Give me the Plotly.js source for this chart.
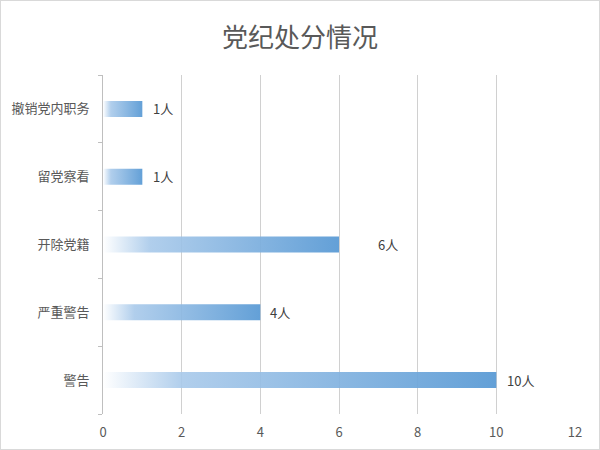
<!DOCTYPE html>
<html>
<head>
<meta charset="utf-8">
<script src="https://cdn.plot.ly/plotly-3.0.1.min.js"></script>
<style>
  html, body { margin: 0; padding: 0; background: #fff; }
  #chart { width: 598px; height: 448px; border: 1px solid #d9d9d9; }
</style>
</head>
<body>
<div id="chart"></div>
<script>
// ---- data ----
const categories = ['撤销党内职务', '留党察看', '开除党籍', '严重警告', '警告'];
const values = [1, 1, 6, 4, 10];
const unit = '人';
const xTicks = [0, 2, 4, 6, 8, 10, 12];

// ---- style ----
const labelShift = [9, 9, 37, 8, 9];
const halfBar = 0.118;
const FONT = '"Noto Sans CJK SC", "Noto Sans", sans-serif';
const grad = [[0, 'rgba(255,255,255,0.9)'], [0.2, 'rgba(168,201,234,0.9)'], [1, 'rgba(91,155,213,0.95)']];

const traces = categories.map((c, i) => ({
  type: 'scatter',
  mode: 'lines',
  x: [0, values[i], values[i], 0, 0],
  y: [i - halfBar, i - halfBar, i + halfBar, i + halfBar, i - halfBar],
  fill: 'toself',
  line: { width: 0, color: 'rgba(0,0,0,0)' },
  fillgradient: { type: 'horizontal', start: 0, stop: values[i], colorscale: grad },
  hoverinfo: 'skip',
  showlegend: false
}));

const annotations = categories.map((c, i) => ({
  x: values[i], y: i, xref: 'x', yref: 'y',
  text: values[i] + unit, showarrow: false,
  xanchor: 'left', yanchor: 'middle', xshift: labelShift[i],
  font: { family: FONT, size: 13, color: '#404040' }
}));

const boundaries = categories.map((c, i) => i - 0.5).concat([categories.length - 0.5]);

const layout = {
  width: 598, height: 448,
  margin: { l: 102, r: 24, t: 74, b: 35 },
  paper_bgcolor: '#ffffff', plot_bgcolor: '#ffffff',
  font: { family: FONT, color: '#595959' },
  title: {
    text: '党纪处分情况',
    font: { family: FONT, size: 26, color: '#595959' },
    x: 0.5, xref: 'container', xanchor: 'center',
    y: 1 - 37 / 448, yref: 'container', yanchor: 'middle'
  },
  xaxis: {
    range: [0, 12], tickvals: xTicks, ticktext: xTicks.map(String),
    showgrid: true, gridcolor: '#d0d0d0', gridwidth: 1,
    zeroline: false, showline: false, ticks: '', ticklabelstandoff: 9,
    tickfont: { family: FONT, size: 13, color: '#595959' },
    fixedrange: true
  },
  yaxis: {
    range: [categories.length - 0.5, -0.5],
    tickvals: categories.map((c, i) => i), ticktext: categories,
    showgrid: false, zeroline: false,
    showline: true, linecolor: '#bfbfbf', linewidth: 1,
    ticks: '', ticklabelstandoff: 10,
    minor: { tickvals: boundaries, ticks: 'outside', ticklen: 4, tickcolor: '#bfbfbf', showgrid: false },
    tickfont: { family: FONT, size: 13, color: '#595959' },
    fixedrange: true
  },
  annotations: annotations,
  showlegend: false
};

Plotly.newPlot('chart', traces, layout, { displayModeBar: false, staticPlot: true });
</script>
</body>
</html>
